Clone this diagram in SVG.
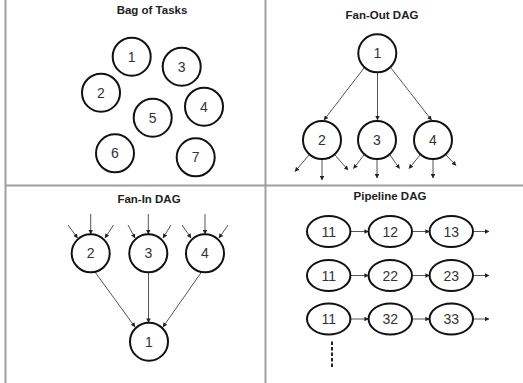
<svg xmlns="http://www.w3.org/2000/svg" width="523" height="383" viewBox="0 0 523 383">
<defs>
<marker id="ah" viewBox="0 0 6 6" refX="5.5" refY="3" markerWidth="4.5" markerHeight="4.5" markerUnits="userSpaceOnUse" orient="auto">
<path d="M0,0 L6,3 L0,6 z" fill="#222"/>
</marker>
<style>
.frame{stroke:#a0a0a0;stroke-width:2;fill:none}
.n{fill:#fff;stroke:#111;stroke-width:2}
.t{font-family:"Liberation Sans",Arial,sans-serif;font-size:14px;fill:#333;text-anchor:middle}
.h{font-family:"Liberation Sans",Arial,sans-serif;font-size:11.5px;font-weight:bold;fill:#222;text-anchor:middle}
.e{stroke:#555;stroke-width:1;fill:none;marker-end:url(#ah)}
</style>
</defs>
<rect width="523" height="383" fill="#fff"/>
<g id="frame">
<line class="frame" x1="5.5" y1="0" x2="5.5" y2="383"/>
<line class="frame" x1="265.5" y1="0" x2="265.5" y2="383"/>
<line class="frame" x1="5" y1="185.5" x2="523" y2="185.5"/>
</g>
<g id="titles">
<text class="h" x="152" y="14">Bag of Tasks</text>
<text class="h" x="382" y="19">Fan-Out DAG</text>
<text class="h" x="149" y="203">Fan-In DAG</text>
<text class="h" x="390" y="200">Pipeline DAG</text>
</g>
<g id="connectors">
<line class="e" x1="364" y1="68" x2="324" y2="120"/>
<line class="e" x1="377.5" y1="72.5" x2="377.5" y2="120"/>
<line class="e" x1="391" y1="68" x2="431.5" y2="120"/>
<line class="e" x1="309" y1="155" x2="295" y2="171.5"/>
<line class="e" x1="322" y1="159" x2="322" y2="180"/>
<line class="e" x1="335" y1="155" x2="348" y2="170"/>
<line class="e" x1="364" y1="155" x2="353.5" y2="168.5"/>
<line class="e" x1="377" y1="159" x2="377" y2="178"/>
<line class="e" x1="390" y1="155" x2="399.5" y2="168.5"/>
<line class="e" x1="420" y1="155" x2="409" y2="168.5"/>
<line class="e" x1="433" y1="159" x2="433" y2="178"/>
<line class="e" x1="446" y1="155" x2="456" y2="165.5"/>
<line class="e" x1="68" y1="225" x2="77.5" y2="238"/>
<line class="e" x1="90.7" y1="214" x2="90.7" y2="234"/>
<line class="e" x1="113.5" y1="225" x2="105" y2="238"/>
<line class="e" x1="128" y1="225" x2="135" y2="238"/>
<line class="e" x1="148.3" y1="214" x2="148.3" y2="234"/>
<line class="e" x1="171" y1="225" x2="163" y2="238"/>
<line class="e" x1="182" y1="225" x2="191" y2="238"/>
<line class="e" x1="205" y1="214" x2="205" y2="234"/>
<line class="e" x1="228" y1="225" x2="219" y2="238"/>
<line class="e" x1="95" y1="272" x2="135" y2="327"/>
<line class="e" x1="148.5" y1="272.5" x2="148.5" y2="322.5"/>
<line class="e" x1="201.5" y1="272" x2="163" y2="327"/>
<line class="e" x1="350.5" y1="231.5" x2="368.5" y2="231.5"/>
<line class="e" x1="412" y1="231.5" x2="429.5" y2="231.5"/>
<line class="e" x1="473" y1="231.5" x2="489" y2="231.5"/>
<line class="e" x1="350.5" y1="275.5" x2="368.5" y2="275.5"/>
<line class="e" x1="412" y1="275.5" x2="429.5" y2="275.5"/>
<line class="e" x1="473" y1="275.5" x2="489" y2="275.5"/>
<line class="e" x1="350.5" y1="319" x2="368.5" y2="319"/>
<line class="e" x1="412" y1="319" x2="429.5" y2="319"/>
<line class="e" x1="473" y1="319" x2="489" y2="319"/>
<line x1="332" y1="341.5" x2="332" y2="368" stroke="#222" stroke-width="2" stroke-dasharray="3.5,2"/>
</g>
<g id="bag-1"><circle class="n" cx="131.7" cy="56.7" r="19"/><text class="t" x="131.7" y="61.7">1</text></g>
<g id="bag-3"><circle class="n" cx="181.7" cy="66.7" r="19"/><text class="t" x="181.7" y="71.7">3</text></g>
<g id="bag-2"><circle class="n" cx="101" cy="92.7" r="19"/><text class="t" x="101" y="97.7">2</text></g>
<g id="bag-5"><circle class="n" cx="152.7" cy="117.7" r="19"/><text class="t" x="152.7" y="122.7">5</text></g>
<g id="bag-4"><circle class="n" cx="204" cy="106.7" r="19"/><text class="t" x="204" y="111.7">4</text></g>
<g id="bag-6"><circle class="n" cx="115" cy="153.3" r="19"/><text class="t" x="115" y="158.3">6</text></g>
<g id="bag-7"><circle class="n" cx="195.7" cy="157.3" r="19"/><text class="t" x="195.7" y="162.3">7</text></g>
<g id="fo-1"><circle class="n" cx="377.3" cy="53.3" r="19"/><text class="t" x="377.3" y="58.3">1</text></g>
<g id="fo-2"><circle class="n" cx="322" cy="140" r="19"/><text class="t" x="322" y="145">2</text></g>
<g id="fo-3"><circle class="n" cx="377" cy="140" r="19"/><text class="t" x="377" y="145">3</text></g>
<g id="fo-4"><circle class="n" cx="433" cy="140" r="19"/><text class="t" x="433" y="145">4</text></g>
<g id="fi-2"><circle class="n" cx="90.7" cy="253.3" r="19"/><text class="t" x="90.7" y="258.3">2</text></g>
<g id="fi-3"><circle class="n" cx="148.3" cy="253.3" r="19"/><text class="t" x="148.3" y="258.3">3</text></g>
<g id="fi-4"><circle class="n" cx="205" cy="253.3" r="19"/><text class="t" x="205" y="258.3">4</text></g>
<g id="fi-1"><circle class="n" cx="149" cy="341.7" r="19"/><text class="t" x="149" y="346.7">1</text></g>
<g id="p-11a"><ellipse class="n" cx="328.7" cy="231.5" rx="21.7" ry="15.5"/><text class="t" x="328.7" y="236.5">11</text></g>
<g id="p-12"><ellipse class="n" cx="390.3" cy="231.5" rx="21.7" ry="15.5"/><text class="t" x="390.3" y="236.5">12</text></g>
<g id="p-13"><ellipse class="n" cx="451.3" cy="231.5" rx="21.7" ry="15.5"/><text class="t" x="451.3" y="236.5">13</text></g>
<g id="p-11b"><ellipse class="n" cx="328.7" cy="275.5" rx="21.7" ry="15.5"/><text class="t" x="328.7" y="280.5">11</text></g>
<g id="p-22"><ellipse class="n" cx="390.3" cy="275.5" rx="21.7" ry="15.5"/><text class="t" x="390.3" y="280.5">22</text></g>
<g id="p-23"><ellipse class="n" cx="451.3" cy="275.5" rx="21.7" ry="15.5"/><text class="t" x="451.3" y="280.5">23</text></g>
<g id="p-11c"><ellipse class="n" cx="328.7" cy="319" rx="21.7" ry="15.5"/><text class="t" x="328.7" y="324">11</text></g>
<g id="p-32"><ellipse class="n" cx="390.3" cy="319" rx="21.7" ry="15.5"/><text class="t" x="390.3" y="324">32</text></g>
<g id="p-33"><ellipse class="n" cx="451.3" cy="319" rx="21.7" ry="15.5"/><text class="t" x="451.3" y="324">33</text></g>
</svg>
